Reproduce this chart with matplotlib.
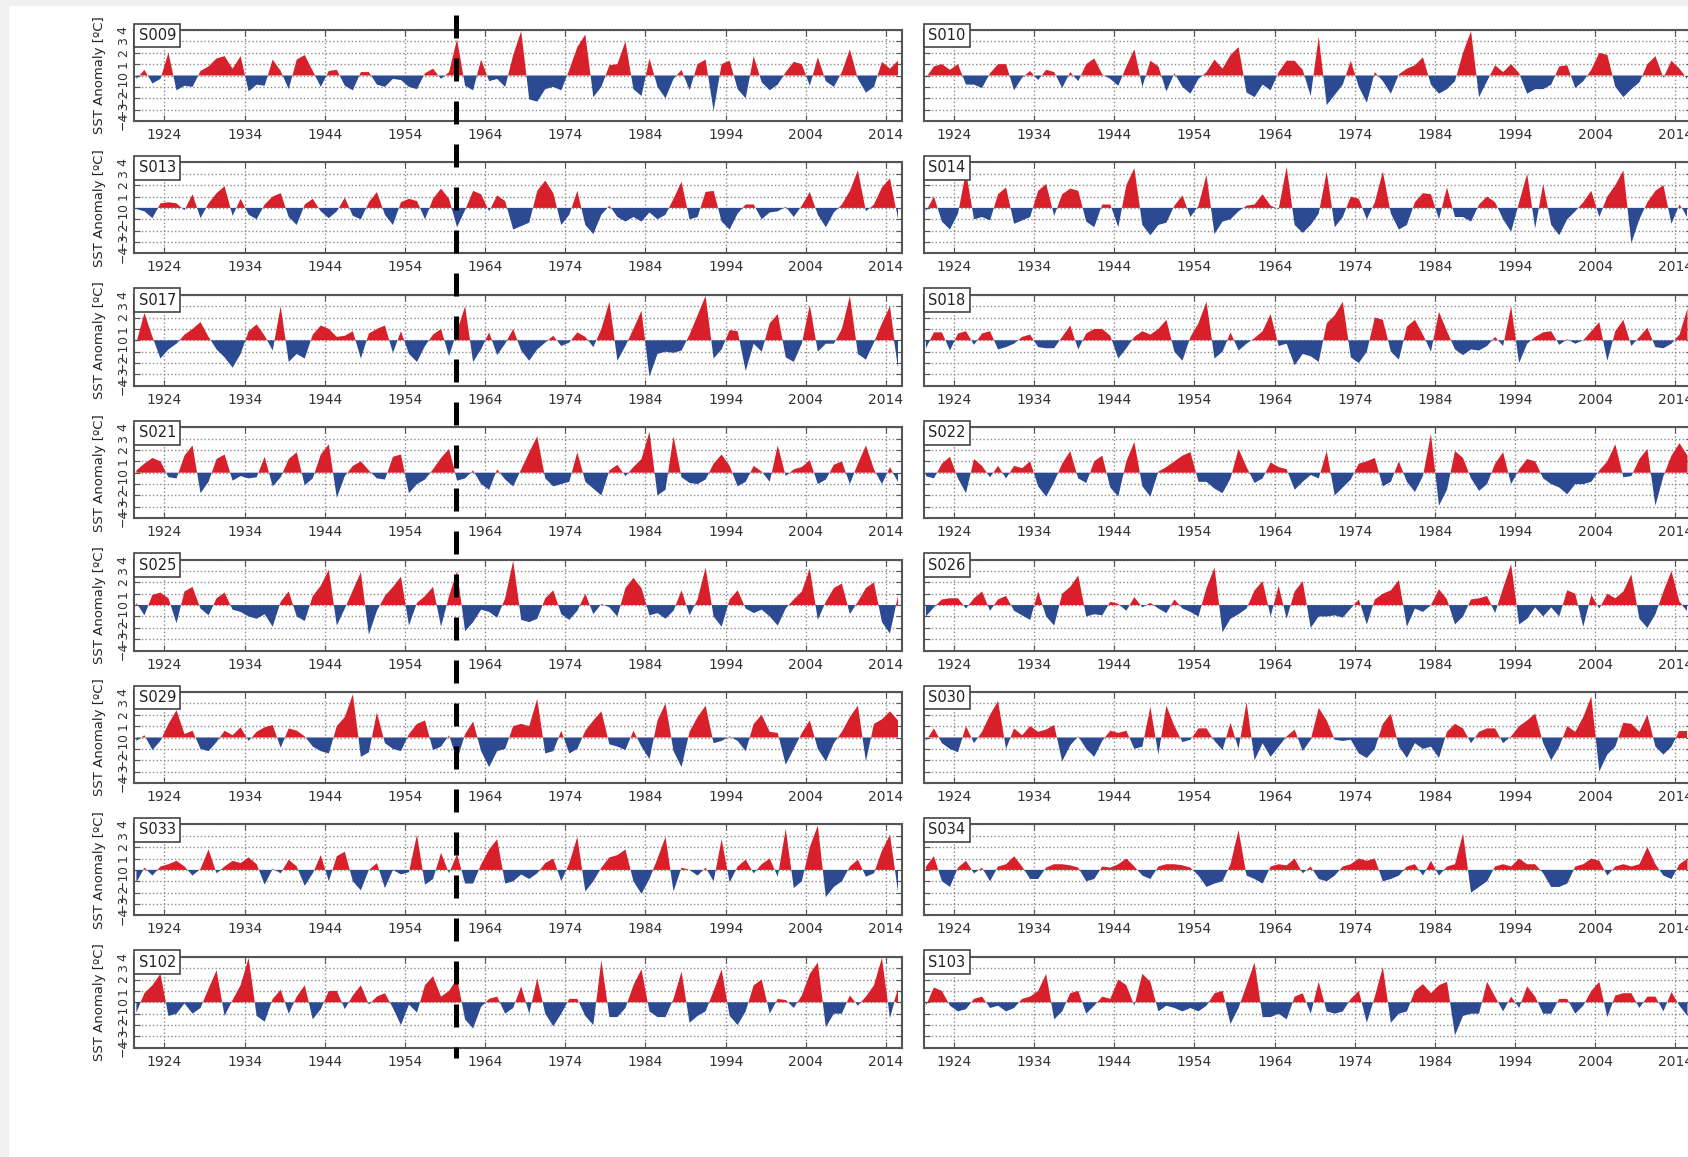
import numpy as np
import matplotlib.pyplot as plt
from matplotlib.lines import Line2D
from matplotlib.patches import Rectangle

# one value per year, 1920 .. 2015
years = np.arange(1920, 2016) + 0.5

s009 = [-0.3, 0.5, -0.7, -0.3, 2.0, -1.3, -0.9, -1.0, 0.4, 0.8,
        1.5, 1.7, 0.6, 1.7, -1.4, -0.8, -0.9, 1.4, 0.4, -1.2,
        1.4, 1.8, 0.4, -1.0, 0.4, 0.5, -0.9, -1.3, 0.3, 0.3,
        -0.8, -1.0, -0.3, -0.4, -1.0, -1.2, 0.2, 0.6, -0.3, 0.3,
        3.2, -0.9, -1.3, 1.4, -0.5, -0.3, -1.0, 1.8, 3.9, -2.1,
        -2.3, -1.2, -1.0, -1.3, 0.5, 2.5, 3.6, -1.9, -1.0, 0.9,
        1.0, 3.0, -1.2, -1.8, 1.5, -1.0, -2.0, -0.3, 0.5, -1.3,
        1.0, 1.4, -3.1, 1.0, 1.3, -1.2, -2.0, 1.7, -0.6, -1.3,
        -0.8, 0.3, 1.2, 1.0, -0.9, 1.6, -0.5, -1.0, 0.3, 2.3,
        -0.3, -1.5, -1.0, 1.2, 0.6, 1.3]
s013 = [-0.1, -0.3, -0.9, 0.4, 0.5, 0.4, -0.2, 1.2, -0.9, 0.4,
        1.3, 1.9, -0.7, 0.8, -0.6, -1.0, 0.3, 1.0, 1.3, -0.8,
        -1.5, 0.3, 0.8, -0.3, -0.9, -0.3, 0.9, -0.7, -1.0, 0.5,
        1.4, -0.6, -1.5, 0.5, 0.8, 0.6, -1.0, 0.8, 1.7, 0.8,
        -1.7, -0.2, 1.5, 1.2, -0.3, 1.1, 0.6, -1.9, -1.6, -1.3,
        1.5, 2.4, 1.3, -1.5, -0.6, 1.5, -1.5, -2.3, -0.6, 0.2,
        -0.8, -1.2, -0.8, -1.2, -0.4, -1.0, -0.6, 0.8, 2.3, -1.0,
        -0.8, 1.4, 1.5, -1.2, -1.9, -0.5, 0.3, 0.3, -1.0, -0.4,
        -0.3, 0.1, -0.8, 0.2, 1.4, -0.6, -1.7, -0.4, 0.3, 1.5,
        3.3, -0.3, 0.3, 1.8, 2.6, -1.0]
s017 = [-0.2, 2.4, 0.3, -1.6, -0.8, -0.3, 0.5, 1.0, 1.6, 0.3,
        -0.8, -1.5, -2.4, -1.2, 0.8, 1.4, 0.4, -0.9, 3.0, -1.9,
        -1.2, -1.6, 0.5, 1.3, 1.0, 0.3, 0.4, 0.8, -1.6, 0.6,
        1.0, 1.3, -1.1, 0.8, -1.2, -1.9, -0.5, 0.5, 1.0, -1.4,
        0.8, 3.0, -1.9, -0.8, 0.7, -1.3, -0.3, 1.0, -0.9, -1.8,
        -0.8, -0.2, 0.4, -0.5, -0.2, 0.7, 0.3, -0.6, 1.0, 3.4,
        -1.8, -0.5, 1.0, 2.6, -3.2, -1.2, -1.0, -1.1, -0.9, 0.5,
        2.2, 3.9, -1.6, -0.8, 0.9, 0.8, -2.7, -0.3, -1.0, 1.5,
        2.3, -1.5, -1.9, -0.3, 3.1, -1.0, -0.3, -0.3, 1.0, 3.9,
        -1.2, -1.7, -0.2, 1.5, 3.0, -2.4]
s021 = [0.2, 0.8, 1.3, 1.0, -0.4, -0.5, 1.5, 2.4, -1.8, -0.8,
        1.2, 1.6, -0.7, -0.3, -0.5, -0.4, 1.4, -1.2, -0.4, 1.2,
        1.8, -1.1, -0.5, 1.6, 2.5, -2.2, -0.3, 0.6, 1.0, 0.2,
        -0.5, -0.6, 1.4, 1.6, -1.8, -1.0, -0.6, 0.3, 1.3, 2.1,
        -0.7, -0.5, 0.2, -1.0, -1.5, 0.3, -0.6, -1.2, 0.3, 1.8,
        3.2, -0.5, -1.2, -1.0, -0.8, 1.8, -0.8, -1.4, -2.0, 0.2,
        0.7, -0.3, 0.5, 1.2, 3.6, -2.0, -1.5, 3.2, -0.4, -0.9,
        -1.0, -0.6, 0.8, 1.6, 0.6, -1.2, -0.8, 0.6, 0.1, -0.8,
        2.4, -0.3, 0.3, 0.5, 1.1, -1.0, -0.6, 0.7, 1.0, -1.0,
        0.8, 2.4, 0.3, -1.0, 0.5, -0.8]
s025 = [0.2, -0.9, 0.9, 1.1, 0.6, -1.6, 1.2, 1.6, -0.3, -0.9,
        0.6, 1.1, -0.4, -0.6, -1.0, -1.2, -0.8, -1.9, 0.3, 1.2,
        -1.0, -1.4, 0.8, 1.7, 3.1, -1.8, -0.3, 1.3, 2.9, -2.6,
        -0.5, 0.8, 1.6, 2.5, -1.8, 0.2, 0.8, 1.6, -1.9, 0.8,
        3.0, -2.3, -1.5, -0.4, -0.6, -1.1, 0.6, 3.9, -1.3, -1.5,
        -1.2, 0.6, 1.3, -0.8, -1.3, -0.5, 1.0, -0.8, 0.1, -0.2,
        -1.0, 1.5, 2.4, 1.5, -0.9, -0.7, -1.2, -0.5, 1.3, -0.9,
        0.5, 3.3, -1.0, -1.9, 0.5, 1.3, -0.3, -0.7, -0.4, -1.0,
        -1.8, -0.3, 0.5, 1.2, 3.2, -1.3, 0.3, 1.5, 1.9, -0.8,
        0.3, 1.5, 2.0, -1.5, -2.5, 0.8]
s029 = [-0.3, 0.2, -1.1, -0.3, 1.2, 2.4, 0.3, 0.6, -1.0, -1.2,
        -0.4, 0.6, 0.2, 0.9, -0.3, 0.5, 0.9, 1.1, -0.9, 0.8,
        0.6, 0.1, -0.8, -1.2, -1.4, 1.0, 1.8, 3.8, -1.7, -1.3,
        2.2, -0.5, -1.0, -1.2, 0.3, 1.2, 1.5, -1.1, -0.8, 0.2,
        -2.0, 0.3, 1.4, -1.2, -2.6, -1.2, -1.0, 1.0, 1.2, 1.0,
        3.4, -1.4, -1.2, 0.6, -1.4, -1.0, 0.6, 1.5, 2.3, -0.6,
        -0.8, -1.1, 0.6, -0.8, -1.9, 1.5, 3.0, -1.2, -2.6, 0.5,
        1.8, 2.8, -0.5, -0.3, 0.1, -0.3, -1.2, 1.2, 2.0, 0.5,
        0.4, -2.4, -1.0, 0.4, 1.5, -1.0, -2.1, -0.5, 0.5, 1.8,
        2.8, -2.1, 1.2, 1.6, 2.3, 1.5]
s033 = [-1.1, 0.2, -0.5, 0.3, 0.5, 0.8, 0.3, -0.5, 0.1, 1.8,
        -0.3, 0.3, 0.8, 0.6, 1.1, 0.5, -1.3, 0.1, -0.3, 0.9,
        0.3, -1.4, -0.3, 1.3, -1.0, 1.2, 1.6, -1.0, -1.8, 0.0,
        0.6, -1.6, 0.0, -0.4, -0.2, 3.1, -1.3, -0.8, 1.5, -0.3,
        1.4, -1.2, -1.2, 0.5, 1.8, 2.7, -1.2, -1.0, -0.4, -0.8,
        -0.3, 0.6, 1.0, -1.0, 0.6, 2.9, -1.9, -1.0, 0.2, 1.1,
        1.3, 1.8, -1.0, -2.1, -0.8, 1.0, 2.9, -1.9, 0.2, 0.0,
        -0.5, 0.2, -1.0, 2.7, -1.1, 0.3, 0.9, -0.3, 0.5, 1.0,
        -0.6, 3.6, -1.6, -1.0, 2.0, 3.9, -2.4, -1.5, -1.0, 0.3,
        0.9, -0.6, -0.3, 1.7, 3.1, -1.9]
s102 = [-0.9, 0.8, 1.5, 2.5, -1.2, -1.0, -0.1, -1.0, -0.5, 1.2,
        2.8, -1.2, 0.2, 1.5, 3.9, -1.2, -1.7, 0.3, 1.1, -1.0,
        0.5, 1.5, -1.5, -0.6, 1.0, 1.0, -0.6, 0.6, 1.5, -0.2,
        0.5, 0.8, -0.5, -2.0, -0.2, -0.9, 1.5, 2.3, 0.5, 1.0,
        2.1, -1.5, -2.3, -0.4, 0.3, 0.5, -1.0, -0.5, 1.4, -1.0,
        2.1, -1.0, -2.1, -1.0, 0.3, 0.3, -1.2, -2.0, 3.7, -1.3,
        -1.3, -0.5, 1.5, 2.9, -0.8, -1.3, -1.3, 0.3, 2.7, -1.8,
        -1.2, -0.8, 1.0, 2.9, -1.2, -2.0, -0.8, 1.5, 2.0, -1.0,
        0.3, 0.2, -0.5, 0.6, 2.5, 3.5, -2.2, -1.0, -1.0, 0.6,
        -0.3, 0.5, 1.5, 3.9, -1.4, 1.2]

s010 = [-0.2, 0.8, 1.0, 0.5, 1.0, -0.8, -0.8, -1.1, 0.2, 1.0,
        1.0, -1.3, -0.2, 0.4, -0.4, 0.5, 0.3, -1.1, 0.3, -0.5,
        1.0, 1.5, 0.1, -0.3, -0.9, 0.8, 2.3, -1.0, 1.3, 0.8,
        -1.4, 0.2, -1.0, -1.6, -0.3, 0.3, 1.4, 0.6, 1.8, 2.5,
        -1.5, -1.9, -0.8, -1.3, 0.3, 1.3, 1.3, 0.5, -1.8, 3.4,
        -2.6, -1.7, -0.8, 1.3, -1.0, -2.4, 0.3, -0.5, -1.6, 0.1,
        0.6, 0.9, 1.6, -0.8, -1.6, -1.2, -0.5, 2.0, 3.9, -1.9,
        -0.5, 0.9, 0.3, 1.0, 0.2, -1.6, -1.2, -1.2, -0.8, 0.8,
        0.9, -1.1, -0.5, 0.5, 2.0, 1.8, -1.0, -1.9, -1.2, -0.6,
        1.0, 1.7, -0.2, 1.3, 0.6, -0.3]
s014 = [-0.3, 1.0, -1.2, -1.9, -0.5, 3.2, -1.0, -0.8, -1.1, 1.2,
        1.8, -1.4, -1.1, -0.8, 1.5, 2.1, -0.7, 1.2, 1.7, 1.5,
        -1.2, -1.7, 0.3, 0.3, -1.7, 2.0, 3.5, -1.5, -2.4, -1.5,
        -1.3, 0.2, 1.1, -0.8, 0.2, 2.9, -2.3, -1.2, -1.0, -0.3,
        0.2, 0.3, 1.2, 0.2, -0.1, 3.6, -1.5, -2.2, -1.5, -0.5,
        3.2, -1.7, -0.8, 1.0, 0.8, -1.0, 0.5, 3.2, -0.5, -1.9,
        -1.5, 0.5, 1.3, 1.2, -1.0, 1.8, -0.8, -0.8, -1.2, 0.3,
        1.0, 0.5, -1.0, -2.1, 0.5, 3.0, -1.8, 2.1, -1.5, -2.4,
        -1.0, -0.3, 0.5, 1.5, -0.8, 1.0, 2.0, 3.3, -3.1, -1.0,
        0.5, 1.5, 2.0, -1.4, 0.3, -0.8]
s018 = [-0.7, 0.7, 0.7, -0.9, 0.6, 0.8, -0.4, 0.6, 0.8, -0.8,
        -0.6, -0.3, 0.3, 0.5, -0.6, -0.7, -0.7, 0.3, 1.3, -0.8,
        0.6, 1.0, 1.0, 0.4, -1.6, -0.7, 0.3, 0.8, 0.5, 1.0,
        1.8, -1.0, -1.8, 0.3, 1.5, 3.4, -1.6, -1.0, 0.7, -0.9,
        -0.3, 0.2, 0.8, 2.3, -0.5, -0.3, -2.2, -1.2, -1.4, -1.9,
        1.5, 2.2, 3.4, -1.5, -2.0, -1.0, 2.0, 1.8, -1.0, -1.7,
        1.2, 1.8, 0.5, -1.0, 2.5, 0.8, -0.8, -1.3, -0.8, -0.9,
        -0.5, 0.3, -0.5, 3.0, -2.0, -0.3, 0.3, 0.7, 0.8, -0.4,
        0.1, -0.3, 0.0, 0.8, 1.6, -1.8, 0.8, 1.8, -0.5, 0.3,
        1.1, -0.6, -0.7, -0.3, 0.5, 2.8]
s022 = [-0.3, -0.5, 0.8, 1.4, -0.5, -1.8, 1.2, 0.6, -0.4, 0.6,
        -0.5, 0.6, 0.4, 1.0, -1.2, -2.1, -0.8, 0.8, 1.9, -0.5,
        -0.9, 1.0, 1.5, -1.3, -2.1, 1.0, 2.7, -1.2, -2.1, 0.1,
        0.5, 1.0, 1.5, 1.8, -0.8, -0.8, -1.4, -1.8, -0.5, 2.1,
        0.5, -0.9, -0.5, 0.9, 0.5, 0.3, -1.5, -0.8, -0.2, -0.5,
        1.9, -2.0, -1.3, -0.6, 0.8, 1.0, 1.3, -1.2, -0.8, 1.0,
        -0.8, -1.7, -0.3, 3.4, -2.9, -1.5, 1.9, 1.3, -0.5, -1.6,
        -1.0, 0.8, 1.8, -1.0, 0.3, 1.2, 1.0, -0.5, -1.0, -1.3,
        -1.9, -1.0, -1.0, -0.8, 0.2, 1.0, 2.5, -0.4, -0.3, 1.2,
        2.1, -2.9, -0.3, 1.5, 2.6, 1.5]
s026 = [-1.0, -0.2, 0.5, 0.6, 0.6, -0.3, 0.6, 1.2, -0.5, 0.5,
        0.8, -0.5, -0.9, -1.3, 1.2, -1.0, -1.8, 1.0, 1.6, 2.6,
        -1.0, -0.8, -0.9, 0.3, 0.1, -0.5, 0.7, -0.2, 0.2, -0.3,
        -0.7, 0.5, -0.3, -0.6, -1.0, 1.5, 3.3, -2.4, -1.2, -0.8,
        -0.3, 1.3, 2.1, -1.0, 1.7, -1.2, 1.2, 2.1, -2.0, -1.0,
        -1.0, -0.9, -1.1, -0.3, 0.5, -1.7, 0.5, 1.0, 1.3, 2.2,
        -1.9, -0.3, -0.6, 0.0, 1.4, 0.5, -1.7, -1.0, 0.5, 0.6,
        0.8, -0.7, 1.5, 3.6, -1.7, -1.2, -0.2, -1.0, -0.2, -1.0,
        1.3, 1.0, -1.9, 0.9, -0.3, 1.0, 0.6, 1.2, 2.7, -1.2,
        -2.0, -0.8, 1.2, 3.0, 0.3, -0.5]
s030 = [-0.3, 0.8, -0.5, -1.0, -1.3, 1.0, -0.5, 0.5, 2.0, 3.2,
        -1.0, 0.8, 0.2, 1.0, 0.5, 0.7, 1.1, -2.1, -0.7, 0.1,
        -1.0, -1.7, -0.3, 0.6, 0.4, 0.6, -1.0, -0.8, 2.7, -1.5,
        2.8, 1.0, -0.4, -0.2, 0.8, 0.8, -0.3, -1.1, 1.3, -1.0,
        3.1, -2.0, -0.5, -1.7, -0.8, 0.1, 0.7, -1.2, -0.2, 2.6,
        1.5, -0.2, -0.3, -0.2, -1.4, -1.8, -1.0, 1.2, 2.1, -0.8,
        -1.8, -0.5, -1.0, -0.8, -1.8, 0.5, 1.2, 0.8, -0.5, 0.5,
        0.8, 0.8, -0.5, 0.1, 1.0, 1.5, 2.1, -0.5, -2.0, -0.8,
        1.0, 0.5, 1.8, 3.6, -3.0, -1.5, -0.8, 1.3, 1.2, 0.5,
        2.0, -0.8, -1.5, -0.8, 0.6, 0.6]
s034 = [0.3, 1.2, -1.0, -1.5, 0.2, 0.8, -0.3, 0.2, -1.0, 0.3,
        0.5, 1.2, 0.3, -0.8, -0.8, 0.2, 0.5, 0.5, 0.4, 0.2,
        -1.0, -0.8, 0.3, 0.2, 0.5, 1.0, 0.3, -0.5, -0.8, 0.3,
        0.5, 0.5, 0.4, 0.2, -0.5, -1.5, -1.2, -1.0, 0.5, 3.5,
        -0.5, -0.8, -1.2, 0.3, 0.5, 0.4, 1.0, -0.3, 0.3, -0.8,
        -1.0, -0.5, 0.3, 0.5, 1.0, 0.8, 1.0, -1.0, -0.8, -0.5,
        0.3, 0.5, -0.5, 0.8, -0.5, 0.3, 0.5, 3.2, -2.0, -1.5,
        -1.0, 0.3, 0.5, 0.3, 1.0, 0.5, 0.5, -0.3, -1.5, -1.5,
        -1.2, 0.3, 0.5, 1.0, 0.8, -0.5, 0.3, 0.5, 0.3, 0.5,
        2.0, 0.5, -0.5, -0.8, 0.5, 1.0]
s103 = [-0.3, 1.3, 1.0, -0.3, -0.8, -0.6, 0.3, 0.5, -0.5, -0.3,
        -0.8, -0.5, 0.3, 0.5, 1.0, 2.5, -1.5, -0.8, 0.8, 1.0,
        -1.0, -0.3, 0.5, 0.3, 2.0, 1.5, -0.3, 2.5, 1.8, -0.8,
        -0.3, -0.5, -0.8, -0.5, -0.8, -0.3, 0.8, 1.0, -1.9, -0.5,
        1.5, 3.5, -1.3, -1.3, -1.0, -1.5, 0.5, 0.8, -1.0, 1.8,
        -0.8, -1.0, -0.8, 0.3, 1.0, -1.8, 0.5, 3.1, -1.8, -1.0,
        -0.8, 1.0, 1.6, 0.8, 1.5, 1.8, -2.9, -1.2, -1.0, -1.0,
        1.8, 0.5, -0.8, 0.5, -0.5, 1.4, 0.5, -1.0, -1.0, 0.3,
        0.3, -1.0, -0.3, 1.0, 1.8, -1.3, 0.6, 0.8, 0.8, -0.5,
        0.5, 0.5, -0.8, 0.9, -0.3, -1.2]

left_names = ['S009', 'S013', 'S017', 'S021', 'S025', 'S029', 'S033', 'S102']
left_data = [s009, s013, s017, s021, s025, s029, s033, s102]
right_names = ['S010', 'S014', 'S018', 'S022', 'S026', 'S030', 'S034', 'S103']
right_data = [s010, s014, s018, s022, s026, s030, s034, s103]

RED = '#d8202b'
BLUE = '#2c4a92'
W, H = 1688, 1157

fig = plt.figure(figsize=(W / 100, H / 100), dpi=100)
# light grey page border seen on the left and top
fig.add_artist(Rectangle((0, 0), 8 / W, 1, transform=fig.transFigure,
                         color='#f0f0f0', zorder=-10))
fig.add_artist(Rectangle((0, 1 - 5 / H), 1, 5 / H, transform=fig.transFigure,
                         color='#f0f0f0', zorder=-10))


def panel(x0, top, vals, name, left):
    ax = fig.add_axes([x0 / W, 1 - (top + 91) / H, 768 / W, 91 / H])
    v = np.array(vals)
    ax.fill_between(years, 0, v, where=v >= 0, interpolate=True, color=RED, lw=0)
    ax.fill_between(years, 0, v, where=v <= 0, interpolate=True, color=BLUE, lw=0)
    ax.set_xlim(1920.2, 2016.0)
    ax.set_ylim(-4, 4)
    ax.set_xticks(range(1924, 2015, 10))
    ax.set_yticks(range(-4, 5))
    ax.grid(True, ls=':', color='#8a8a8a', lw=1)
    ax.set_axisbelow(True)
    ax.tick_params(direction='in', top=True, right=True, length=4, color='#555',
                   labelsize=10, labelcolor='#333', pad=5)
    for s in ax.spines.values():
        s.set_color('#555')
        s.set_linewidth(1.5)
    ax.text(0.006, 0.94, name, transform=ax.transAxes, ha='left', va='center',
            fontsize=10.5, color='#222', zorder=6,
            bbox=dict(boxstyle='square,pad=0.3', fc='white', ec='#444', lw=1.2))
    if left:
        ax.set_ylabel('SST Anomaly [ºC]', fontsize=9.5, color='#222')
        ax.yaxis.set_label_coords(-0.036, 0.5)
        for t in ax.get_yticklabels():
            t.set_rotation(90)
            t.set_fontsize(9)
            t.set_va('center')
        ax.tick_params(axis='y', pad=3)
    else:
        ax.set_yticklabels([])
    return ax


for i in range(8):
    top = 30 + i * 132.4
    panel(134, top, left_data[i], left_names[i], True)
    panel(923.5, top, right_data[i], right_names[i], False)

# thick dashed marker across the left column
fig.add_artist(Line2D([455.7 / W] * 2, [1 - 15 / H, 1 - 1058 / H],
                      transform=fig.transFigure, color='black', lw=3.6,
                      linestyle=(0, (4.6, 4.0)), dash_capstyle='butt', zorder=20))

fig.savefig('out.png', dpi=100)
